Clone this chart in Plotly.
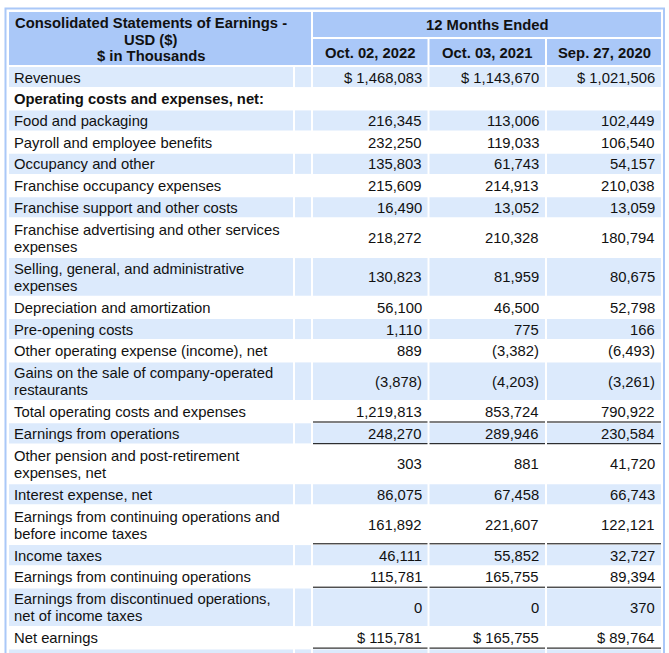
import textwrap
import plotly.graph_objects as go

# ---------------- data ----------------
title_text = "Consolidated Statements of Earnings - USD ($)"
unit_text = "$ in Thousands"
period_header = "12 Months Ended"
period_ends = ["Oct. 02, 2022", "Oct. 03, 2021", "Sep. 27, 2020"]

line_items = [
    "Revenues",
    "Operating costs and expenses, net:",
    "Food and packaging",
    "Payroll and employee benefits",
    "Occupancy and other",
    "Franchise occupancy expenses",
    "Franchise support and other costs",
    "Franchise advertising and other services expenses",
    "Selling, general, and administrative expenses",
    "Depreciation and amortization",
    "Pre-opening costs",
    "Other operating expense (income), net",
    "Gains on the sale of company-operated restaurants",
    "Total operating costs and expenses",
    "Earnings from operations",
    "Other pension and post-retirement expenses, net",
    "Interest expense, net",
    "Earnings from continuing operations and before income taxes",
    "Income taxes",
    "Earnings from continuing operations",
    "Earnings from discontinued operations, net of income taxes",
    "Net earnings",
    "",
]
fy2022 = [1468083, None, 216345, 232250, 135803, 215609, 16490, 218272, 130823,
          56100, 1110, 889, -3878, 1219813, 248270, 303, 86075, 161892, 46111,
          115781, 0, 115781, None]
fy2021 = [1143670, None, 113006, 119033, 61743, 214913, 13052, 210328, 81959,
          46500, 775, -3382, -4203, 853724, 289946, 881, 67458, 221607, 55852,
          165755, 0, 165755, None]
fy2020 = [1021506, None, 102449, 106540, 54157, 210038, 13059, 180794, 80675,
          52798, 166, -6493, -3261, 790922, 230584, 41720, 66743, 122121, 32727,
          89394, 370, 89764, None]

dollar_items = ["Revenues", "Net earnings"]
bold_items = ["Operating costs and expenses, net:"]
underlined_items = ["Total operating costs and expenses", "Earnings from operations",
                    "Earnings from continuing operations and before income taxes",
                    "Earnings from continuing operations", "Net earnings"]

# ---------------- style / layout ----------------
W, H = 669, 653
FONT = "Arial, 'Liberation Sans', sans-serif"
HEAD_BG = "rgb(170,200,248)"
ROW_BG = "rgb(220,234,252)"
TXT = "#111111"
FS = 14.8

X_LABEL = (9, 293)
X_NARROW = (295, 311)
X_VAL = [(313, 427.5), (429.5, 545), (547, 661)]
HEAD_R1 = (12, 37)
HEAD_R2 = (39, 65)
BODY_TOP = 67
ROW_H1 = 21.7
LINE_EXTRA = 17.5
LINE_SP = 17.0
HEAD_LINE_SP = 16.5
GAP = 1.6
WRAP = 40


def fmt(v, dollar):
    if v is None:
        return ""
    s = f"{abs(v):,}"
    if v < 0:
        s = f"({s})"
    if dollar:
        s = "$ " + s
    return s


shapes = []
annotations = []


def rect(x0, x1, y0, y1, color):
    shapes.append(dict(type="rect", xref="x", yref="y", x0=x0, x1=x1, y0=y0, y1=y1,
                       fillcolor=color, line=dict(width=0), layer="below"))


def text(x, y, s, anchor, bold=False):
    annotations.append(dict(x=x, y=y, xref="x", yref="y",
                            text=("<b>" + s + "</b>") if bold else s,
                            showarrow=False, xanchor=anchor, yanchor="middle",
                            font=dict(family=FONT, size=FS, color=TXT)))


def multiline(x, yc, lines, anchor, sp, bold=False):
    n = len(lines)
    for k, t in enumerate(lines):
        text(x, yc + (k - (n - 1) / 2) * sp, t, anchor, bold)


# outer border
shapes.append(dict(type="rect", xref="x", yref="y", x0=5.5, x1=664, y0=8.5, y1=H + 20,
                   fillcolor="rgba(0,0,0,0)", line=dict(color=HEAD_BG, width=2), layer="below"))

# header
rect(X_LABEL[0], X_NARROW[1], HEAD_R1[0], HEAD_R2[1], HEAD_BG)
rect(X_VAL[0][0], X_VAL[2][1], HEAD_R1[0], HEAD_R1[1], HEAD_BG)
title_lines = textwrap.wrap(title_text, 37) + [unit_text]
multiline((X_LABEL[0] + X_LABEL[1]) / 2, (HEAD_R1[0] + HEAD_R2[1]) / 2 + 1,
          title_lines, "center", HEAD_LINE_SP, bold=True)
text((X_VAL[0][0] + X_VAL[2][1]) / 2, (HEAD_R1[0] + HEAD_R1[1]) / 2 + 0.5,
     period_header, "center", bold=True)
for (x0, x1), lab in zip(X_VAL, period_ends):
    rect(x0, x1, HEAD_R2[0], HEAD_R2[1], HEAD_BG)
    text((x0 + x1) / 2, (HEAD_R2[0] + HEAD_R2[1]) / 2 + 1, lab, "center", bold=True)

# body
y = BODY_TOP
for i, item in enumerate(line_items):
    lines = textwrap.wrap(item, WRAP) if item else [""]
    h = ROW_H1 + LINE_EXTRA * (len(lines) - 1)
    y0, y1 = y, y + h - GAP
    yc = (y0 + y1) / 2 + 0.5
    if i % 2 == 0:
        rect(X_LABEL[0], X_LABEL[1], y0, y1, ROW_BG)
        rect(X_NARROW[0], X_NARROW[1], y0, y1, ROW_BG)
        for x0, x1 in X_VAL:
            rect(x0, x1, y0, y1, ROW_BG)
    if item:
        multiline(X_LABEL[0] + 3, yc, lines, "left", LINE_SP, bold=item in bold_items)
    dollar = item in dollar_items
    for (x0, x1), col in zip(X_VAL, (fy2022, fy2021, fy2020)):
        s = fmt(col[i], dollar)
        if s:
            text(x1 - 4, yc, s, "right")
        if item in underlined_items:
            shapes.append(dict(type="line", xref="x", yref="y", x0=x0, x1=x1,
                               y0=y1 + 0.3, y1=y1 + 0.3, line=dict(color="black", width=1)))
    y += h

fig = go.Figure()
fig.update_layout(
    width=W, height=H,
    margin=dict(l=0, r=0, t=0, b=0),
    paper_bgcolor="white", plot_bgcolor="white",
    xaxis=dict(range=[0, W], visible=False, fixedrange=True),
    yaxis=dict(range=[H, 0], visible=False, fixedrange=True),
    shapes=shapes, annotations=annotations, showlegend=False,
)
fig.write_html("out.html", config={"displayModeBar": False},
               post_script="document.body.style.margin='0';document.body.style.overflow='hidden';")
